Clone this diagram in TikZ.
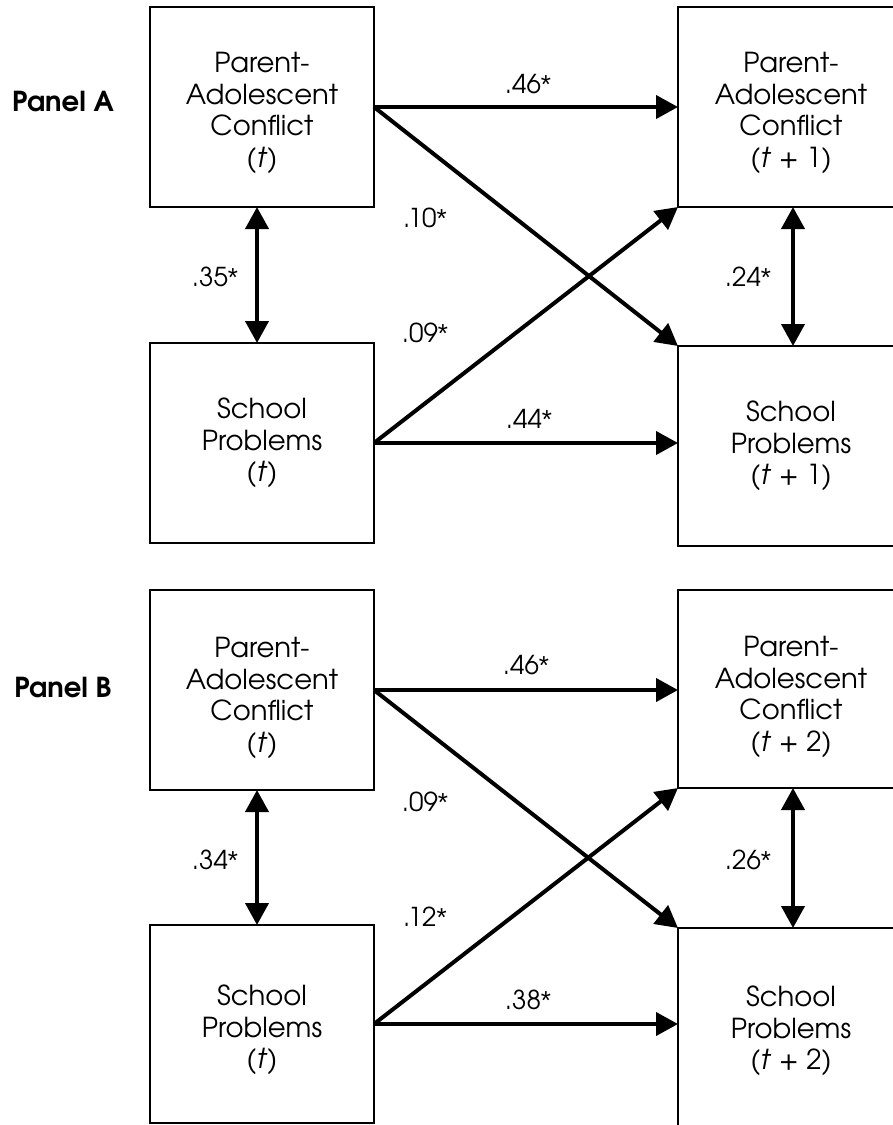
\documentclass[tikz,border=0pt]{standalone}
\usepackage{fontspec}
\setmainfont{TeX Gyre Adventor}
\newfontfamily\astfont{Liberation Sans}
\newcommand{\sigast}{{\astfont *}}
\usetikzlibrary{arrows.meta}
\begin{document}
\begin{tikzpicture}[x=1pt,y=-1pt,
  box/.style={draw, line width=1.6pt, minimum width=224pt, minimum height=200pt, anchor=north west, inner sep=0pt, outer sep=0pt},
  rbox/.style={box, minimum width=226pt},
  txt/.style={align=center, font=\fontsize{27.5}{31.5}\selectfont, inner sep=0pt},
  lab/.style={font=\fontsize{26}{30}\selectfont, inner sep=0pt},
  panel/.style={font=\fontsize{27.5}{31}\selectfont\bfseries, inner sep=0pt},
  arr/.style={line width=4pt, -{Triangle[length=22pt,width=23pt]}},
  darr/.style={line width=4pt, {Triangle[length=22pt,width=23pt]}-{Triangle[length=22pt,width=23pt]}}]
\useasboundingbox (0,0) rectangle (893,1125);
\clip (0,0) rectangle (893,1125);

% Panel A boxes
\node[box] (A1) at (150,7) {};
\node[box] (A2) at (150,343) {};
\node[rbox] (A3) at (678,7) {};
\node[rbox] (A4) at (678,346) {};
% Panel B boxes
\node[box] (B1) at (150,590) {};
\node[box, minimum height=198pt] (B2) at (150,925) {};
\node[rbox, minimum height=198pt] (B3) at (678,590) {};
\node[rbox] (B4) at (678,928) {};

% box texts
\node[txt] (tA1) at ([yshift=-6pt]A1.center) {Parent-\\Adolescent\\Conflict\\(\textit{t})};
\node[txt] (tA2) at (A2.center) {School\\Problems\\(\textit{t})};
\node[txt] (tA3) at ([yshift=-6pt]A3.center) {Parent-\\Adolescent\\Conflict\\(\textit{t} + 1)};
\node[txt] (tA4) at (A4.center) {School\\Problems\\(\textit{t} + 1)};
\node[txt] (tB1) at ([yshift=-8pt]B1.center) {Parent-\\Adolescent\\Conflict\\(\textit{t})};
\node[txt] (tB2) at ([yshift=-6pt]B2.center) {School\\Problems\\(\textit{t})};
\node[txt] (tB3) at ([yshift=-8pt]B3.center) {Parent-\\Adolescent\\Conflict\\(\textit{t} + 2)};
\node[txt] (tB4) at ([yshift=-3pt]B4.center) {School\\Problems\\(\textit{t} + 2)};

% panel labels
\node[panel] (pA) at (63,102) {Panel A};
\node[panel] (pB) at (63,688) {Panel B};

% Panel A connectors
\draw[arr] (A1.east) -- (A1.east -| A3.west);
\draw[arr] (A2.east) -- (A2.east -| A4.west);
\draw[arr] (A1.east) -- (A4.north west);
\draw[arr] (A2.east) -- (A3.south west);
\draw[darr] ([xshift=-5pt]A1.south) -- ([xshift=-5pt]A2.north);
\draw[darr] ([xshift=2pt]A3.south) -- ([xshift=2pt]A4.north);

% Panel B connectors
\draw[arr] (B1.east) -- (B1.east -| B3.west);
\draw[arr] (B2.east) -- (B2.east -| B4.west);
\draw[arr] (B1.east) -- (B4.north west);
\draw[arr] (B2.east) -- (B3.south west);
\draw[darr] ([xshift=-5pt]B1.south) -- ([xshift=-5pt]B2.north);
\draw[darr] ([xshift=2pt]B3.south) -- ([xshift=2pt]B4.north);

% coefficient labels
\node[lab] (lA1) at (528,84) {.46\sigast};
\node[lab] (lA2) at (425,218) {.10\sigast};
\node[lab] (lA3) at (425,333) {.09\sigast};
\node[lab] (lA4) at (529,419) {.44\sigast};
\node[lab] (lA5) at (215,277) {.35\sigast};
\node[lab] (lA6) at (748,277) {.24\sigast};
\node[lab] (lB1) at (526,665) {.46\sigast};
\node[lab] (lB2) at (425,802) {.09\sigast};
\node[lab] (lB3) at (425,917) {.12\sigast};
\node[lab] (lB4) at (528,1000) {.38\sigast};
\node[lab] (lB5) at (215,860) {.34\sigast};
\node[lab] (lB6) at (748,860) {.26\sigast};
\end{tikzpicture}
\end{document}
